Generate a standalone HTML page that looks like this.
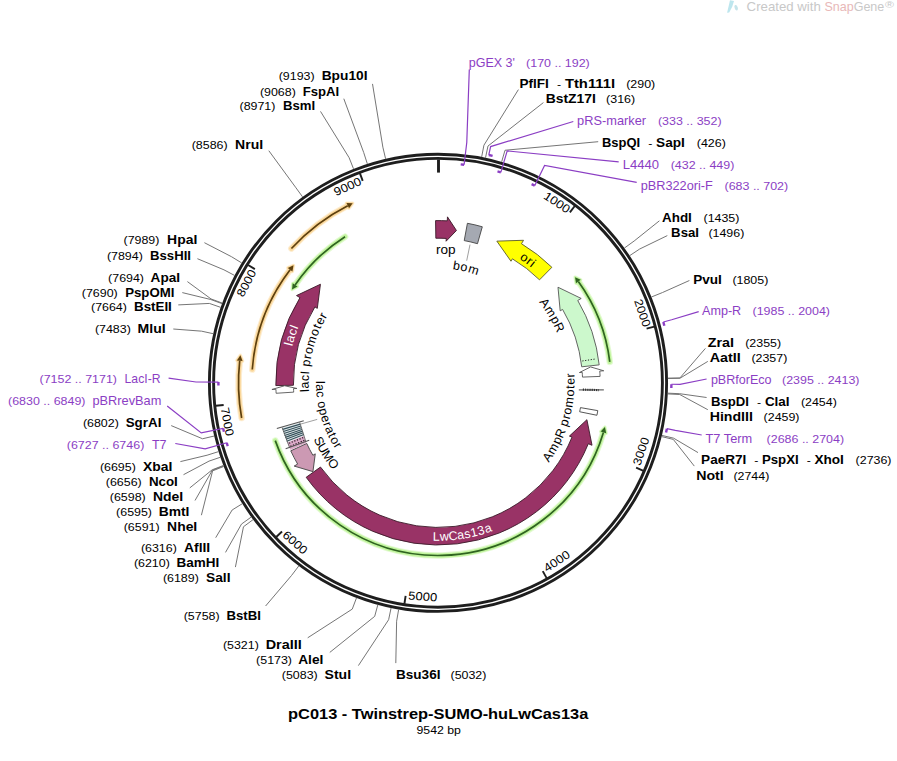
<!DOCTYPE html>
<html><head><meta charset="utf-8"><title>pC013 - Twinstrep-SUMO-huLwCas13a</title>
<style>html,body{margin:0;padding:0;background:#fff;width:897px;height:761px;overflow:hidden}
svg{display:block;font-family:"Liberation Sans",sans-serif}</style></head>
<body>
<svg width="897" height="761" viewBox="0 0 897 761" font-family="Liberation Sans, sans-serif">
<rect width="897" height="761" fill="#fff"/>
<path d="M727.1,12.8 L730,0.2 L734,1 L732.2,6.7 L729.2,12.6 Z" fill="#bde6ee"/>
<ellipse cx="736.2" cy="7.7" rx="1.6" ry="2.9" transform="rotate(-20 736.2 7.7)" fill="#c5e4ea"/>
<text x="746.6" y="10.9" font-size="12.06" fill="#c8c8c8" text-anchor="start" textLength="74.21" lengthAdjust="spacingAndGlyphs">Created with</text>
<text x="824.49" y="10.9" font-size="12.06" fill="#e8b8b8" text-anchor="start" textLength="29.19" lengthAdjust="spacingAndGlyphs">Snap</text>
<text x="853.68" y="10.9" font-size="12.06" fill="#c8c8c8" text-anchor="start" textLength="30.61" lengthAdjust="spacingAndGlyphs">Gene</text>
<text x="885.1" y="8.2" font-size="9.36" fill="#c8c8c8" text-anchor="start" textLength="9" lengthAdjust="spacingAndGlyphs">®</text>
<path d="M609.78,361.89 A173.05,173.05 0 0 0 578.34,281.55" fill="none" stroke="#c0f49c" stroke-opacity="0.45" stroke-width="6.6" stroke-linecap="round"/>
<path d="M575.05,277.14 L580.69,279.85 L575.99,283.25 Z" fill="#c0f49c" fill-opacity="0.45" stroke="#c0f49c" stroke-opacity="0.45" stroke-width="3.4" stroke-linejoin="round"/>
<path d="M609.78,361.89 A173.05,173.05 0 0 0 578.34,281.55" fill="none" stroke="#c0f49c" stroke-width="4.4" stroke-linecap="round"/>
<path d="M575.05,277.14 L580.69,279.85 L575.99,283.25 Z" fill="#c0f49c" stroke="#c0f49c" stroke-width="1.8" stroke-linejoin="round"/>
<path d="M609.78,361.89 A173.05,173.05 0 0 0 578.34,281.55" fill="none" stroke="#2f6420" stroke-width="1.7"/>
<path d="M575.05,277.14 L580.69,279.85 L575.99,283.25 Z" fill="#2f6420" stroke="none"/>
<path d="M275.27,440.62 A172.7,172.7 0 0 0 603.42,432.41" fill="none" stroke="#c0f49c" stroke-opacity="0.45" stroke-width="6.6" stroke-linecap="round"/>
<path d="M604.92,427.12 L606.2,433.24 L600.64,431.58 Z" fill="#c0f49c" fill-opacity="0.45" stroke="#c0f49c" stroke-opacity="0.45" stroke-width="3.4" stroke-linejoin="round"/>
<path d="M275.27,440.62 A172.7,172.7 0 0 0 603.42,432.41" fill="none" stroke="#c0f49c" stroke-width="4.4" stroke-linecap="round"/>
<path d="M604.92,427.12 L606.2,433.24 L600.64,431.58 Z" fill="#c0f49c" stroke="#c0f49c" stroke-width="1.8" stroke-linejoin="round"/>
<path d="M275.27,440.62 A172.7,172.7 0 0 0 603.42,432.41" fill="none" stroke="#2f6420" stroke-width="1.7"/>
<path d="M604.92,427.12 L606.2,433.24 L600.64,431.58 Z" fill="#2f6420" stroke="none"/>
<path d="M345.04,236.66 A173.2,173.2 0 0 0 295.07,284.97" fill="none" stroke="#c0f49c" stroke-opacity="0.45" stroke-width="6.6" stroke-linecap="round"/>
<path d="M292.04,289.56 L292.68,283.34 L297.47,286.61 Z" fill="#c0f49c" fill-opacity="0.45" stroke="#c0f49c" stroke-opacity="0.45" stroke-width="3.4" stroke-linejoin="round"/>
<path d="M345.04,236.66 A173.2,173.2 0 0 0 295.07,284.97" fill="none" stroke="#c0f49c" stroke-width="4.4" stroke-linecap="round"/>
<path d="M292.04,289.56 L292.68,283.34 L297.47,286.61 Z" fill="#c0f49c" stroke="#c0f49c" stroke-width="1.8" stroke-linejoin="round"/>
<path d="M345.04,236.66 A173.2,173.2 0 0 0 295.07,284.97" fill="none" stroke="#2f6420" stroke-width="1.7"/>
<path d="M292.04,289.56 L292.68,283.34 L297.47,286.61 Z" fill="#2f6420" stroke="none"/>
<path d="M291.41,248.52 A198.8,198.8 0 0 1 347.73,205.68" fill="none" stroke="#fad79a" stroke-opacity="0.45" stroke-width="6.6" stroke-linecap="round"/>
<path d="M352.67,203.25 L346.41,203.09 L349.05,208.26 Z" fill="#fad79a" fill-opacity="0.45" stroke="#fad79a" stroke-opacity="0.45" stroke-width="3.4" stroke-linejoin="round"/>
<path d="M291.41,248.52 A198.8,198.8 0 0 1 347.73,205.68" fill="none" stroke="#fad79a" stroke-width="4.4" stroke-linecap="round"/>
<path d="M352.67,203.25 L346.41,203.09 L349.05,208.26 Z" fill="#fad79a" stroke="#fad79a" stroke-width="1.8" stroke-linejoin="round"/>
<path d="M291.41,248.52 A198.8,198.8 0 0 1 347.73,205.68" fill="none" stroke="#5e400e" stroke-width="1.7"/>
<path d="M352.67,203.25 L346.41,203.09 L349.05,208.26 Z" fill="#5e400e" stroke="none"/>
<path d="M252.27,369.52 A186.2,186.2 0 0 1 290.11,269.66" fill="none" stroke="#fad79a" stroke-opacity="0.45" stroke-width="6.6" stroke-linecap="round"/>
<path d="M293.52,265.34 L287.81,267.9 L292.42,271.42 Z" fill="#fad79a" fill-opacity="0.45" stroke="#fad79a" stroke-opacity="0.45" stroke-width="3.4" stroke-linejoin="round"/>
<path d="M252.27,369.52 A186.2,186.2 0 0 1 290.11,269.66" fill="none" stroke="#fad79a" stroke-width="4.4" stroke-linecap="round"/>
<path d="M293.52,265.34 L287.81,267.9 L292.42,271.42 Z" fill="#fad79a" stroke="#fad79a" stroke-width="1.8" stroke-linejoin="round"/>
<path d="M252.27,369.52 A186.2,186.2 0 0 1 290.11,269.66" fill="none" stroke="#5e400e" stroke-width="1.7"/>
<path d="M293.52,265.34 L287.81,267.9 L292.42,271.42 Z" fill="#5e400e" stroke="none"/>
<path d="M241.63,417.99 A199.5,199.5 0 0 1 239.72,360.77" fill="none" stroke="#fad79a" stroke-opacity="0.45" stroke-width="6.6" stroke-linecap="round"/>
<path d="M240.4,355.31 L236.84,360.45 L242.6,361.09 Z" fill="#fad79a" fill-opacity="0.45" stroke="#fad79a" stroke-opacity="0.45" stroke-width="3.4" stroke-linejoin="round"/>
<path d="M241.63,417.99 A199.5,199.5 0 0 1 239.72,360.77" fill="none" stroke="#fad79a" stroke-width="4.4" stroke-linecap="round"/>
<path d="M240.4,355.31 L236.84,360.45 L242.6,361.09 Z" fill="#fad79a" stroke="#fad79a" stroke-width="1.8" stroke-linejoin="round"/>
<path d="M241.63,417.99 A199.5,199.5 0 0 1 239.72,360.77" fill="none" stroke="#5e400e" stroke-width="1.7"/>
<path d="M240.4,355.31 L236.84,360.45 L242.6,361.09 Z" fill="#5e400e" stroke="none"/>
<path d="M435.57,220.62 A162.2,162.2 0 0 1 447.25,220.86 L447.48,216.87 L456.43,230.51 L446.09,241.23 L446.25,238.44 A144.6,144.6 0 0 0 435.83,238.22 Z" fill="#993366" stroke="#3a1a28" stroke-width="0.9" stroke-linejoin="miter"/>
<path d="M467.42,223.29 A162.2,162.2 0 0 1 482.3,226.77 L477.49,243.7 A144.6,144.6 0 0 0 464.23,240.6 Z" fill="#a5a9b2" stroke="#444" stroke-width="0.9"/>
<path d="M551.89,267.31 A162.2,162.2 0 0 0 521.47,243.72 L523.52,240.29 L496.83,241.13 L510.97,261.22 L512.41,258.81 A144.6,144.6 0 0 1 539.53,279.84 Z" fill="#ffff00" stroke="#5a5a2a" stroke-width="0.9" stroke-linejoin="miter"/>
<path d="M599.2,364.86 A162.2,162.2 0 0 0 577.76,300.48 L581.2,298.45 L557.99,287.22 L560.18,310.83 L562.59,309.41 A144.6,144.6 0 0 1 581.71,366.81 Z" fill="#ccf8cc" stroke="#555" stroke-width="0.9" stroke-linejoin="miter"/>
<path d="M600.07,376.4 A162.2,162.2 0 0 0 599.77,371.06 L603.76,370.77 L590.58,366.95 L579.43,372.54 L582.22,372.34 A144.6,144.6 0 0 1 582.49,377.1 Z" fill="#fff" stroke="#555" stroke-width="0.9" stroke-linejoin="miter"/>
<path d="M597.79,410.63 A162.2,162.2 0 0 1 596.92,415.28 L579.67,411.75 A144.6,144.6 0 0 0 580.46,407.61 Z" fill="#fff" stroke="#444" stroke-width="0.9"/>
<path d="M306.18,477.31 A162.2,162.2 0 0 0 588.31,443.74 L592.02,445.25 L586.9,419.7 L569.41,436.08 L572,437.13 A144.6,144.6 0 0 1 320.48,467.06 Z" fill="#993366" stroke="#3a1a28" stroke-width="0.9" stroke-linejoin="miter"/>
<path d="M290.76,450.84 A162.2,162.2 0 0 0 297.63,464.07 L294.17,466.08 L312.94,471.64 L315.28,453.85 L312.86,455.25 A144.6,144.6 0 0 1 306.74,443.45 Z" fill="#cc99b3" stroke="#444" stroke-width="0.9" stroke-linejoin="miter"/>
<path d="M275.82,385.57 A162.2,162.2 0 0 1 299.94,297.66 L296.53,295.57 L320.45,284.24 L317.3,308.37 L314.92,306.9 A144.6,144.6 0 0 0 293.42,385.27 Z" fill="#993366" stroke="#3a1a28" stroke-width="0.9" stroke-linejoin="miter"/>
<path d="M276.14,393.27 A162.2,162.2 0 0 1 275.93,389.31 L271.93,389.47 L284.63,385.74 L296.91,388.47 L293.52,388.6 A144.6,144.6 0 0 0 293.7,392.13 Z" fill="#fff" stroke="#555" stroke-width="0.9" stroke-linejoin="miter"/>
<path d="M582.36,360.97 L596.2,358.87" stroke="#222" stroke-width="1" stroke-dasharray="1.2,1.6"/>
<path d="M578.82,389.93 L603.85,389.9" stroke="#444" stroke-width="1"/>
<path d="M582.84,389.63 L598.83,390.1" stroke="#333" stroke-width="2.2" stroke-dasharray="1.2,1"/>
<path d="M287.19,442.51 A162.2,162.2 0 0 1 282.08,427.51 L299.77,422.44 A143.8,143.8 0 0 0 304.3,435.74 Z" fill="#e4ecee" stroke="none" stroke-width="0"/>
<path d="M300.27,424.12 L282.64,429.41" stroke="#34505a" stroke-width="1.15"/>
<path d="M300.86,426.04 L283.31,431.57" stroke="#34505a" stroke-width="1.15"/>
<path d="M301.39,427.71 L283.91,433.46" stroke="#34505a" stroke-width="1.15"/>
<path d="M301.99,429.5 L284.59,435.47" stroke="#34505a" stroke-width="1.15"/>
<path d="M302.57,431.16 L285.25,437.34" stroke="#34505a" stroke-width="1.15"/>
<path d="M303.18,432.81 L285.92,439.21" stroke="#34505a" stroke-width="1.15"/>
<path d="M303.84,434.57 L286.67,441.19" stroke="#34505a" stroke-width="1.15"/>
<path d="M290.59,449.98 A162,162 0 0 1 287.38,442.44 L303.55,436.03 A144.6,144.6 0 0 0 306.42,442.76 Z" fill="#d9a8c6" stroke="none" stroke-width="0"/>
<path d="M303.19,437.54 L288.37,443.56" stroke="#2a1a22" stroke-width="1.3" stroke-dasharray="1.2,1.6"/>
<path d="M304.37,440.35 L289.67,446.68" stroke="#2a1a22" stroke-width="1.3" stroke-dasharray="1.2,1.6"/>
<path d="M303.77,420.78 L276.83,428.41" stroke="#555" stroke-width="1.1"/>
<path d="M309.19,440.15 L285.65,448.73" stroke="#555" stroke-width="1.1"/>
<path d="M299.77,422.44 L305.7,441.15 M282.08,427.51 L289.78,448.17" stroke="#555" stroke-width="0.8"/>
<path d="M300.6,424.1 L317.2,419.4" stroke="#888" stroke-width="0.8"/>
<circle cx="438" cy="382.8" r="226.5" fill="none" stroke="#1e1e1e" stroke-width="7.1"/>
<circle cx="438" cy="382.8" r="226.5" fill="none" stroke="#fff" stroke-width="1.3"/>
<path d="M438.5,159.5 L438.5,172.6" stroke="#1e1e1e" stroke-width="2.9"/>
<path d="M574.76,206.03 L569.87,212.36" stroke="#1e1e1e" stroke-width="1.9"/>
<text x="554.73" y="205.83" font-size="11.75" fill="#000" text-anchor="middle" textLength="28.76" lengthAdjust="spacingAndGlyphs" transform="rotate(33.41 554.73 205.83)">1000</text>
<path d="M654.34,326.67 L646.59,328.68" stroke="#1e1e1e" stroke-width="1.9"/>
<text x="638.61" y="314.26" font-size="11.75" fill="#000" text-anchor="middle" textLength="28.76" lengthAdjust="spacingAndGlyphs" transform="rotate(71.14 638.61 314.26)">2000</text>
<path d="M643.45,470.79 L636.1,467.64" stroke="#1e1e1e" stroke-width="1.9"/>
<text x="644.87" y="452.51" font-size="11.75" fill="#000" text-anchor="middle" textLength="28.76" lengthAdjust="spacingAndGlyphs" transform="rotate(-71.38 644.87 452.51)">3000</text>
<path d="M546.66,578.11 L542.77,571.12" stroke="#1e1e1e" stroke-width="1.9"/>
<text x="558.96" y="564.52" font-size="11.75" fill="#000" text-anchor="middle" textLength="28.76" lengthAdjust="spacingAndGlyphs" transform="rotate(-33.65 558.96 564.52)">4000</text>
<path d="M404.43,603.76 L405.63,595.85" stroke="#1e1e1e" stroke-width="1.9"/>
<text x="422.47" y="600.55" font-size="11.75" fill="#000" text-anchor="middle" textLength="28.76" lengthAdjust="spacingAndGlyphs" transform="rotate(4.08 422.47 600.55)">5000</text>
<path d="M276.23,537.02 L282.02,531.5" stroke="#1e1e1e" stroke-width="1.9"/>
<text x="292.48" y="545.52" font-size="11.75" fill="#000" text-anchor="middle" textLength="28.76" lengthAdjust="spacingAndGlyphs" transform="rotate(41.81 292.48 545.52)">6000</text>
<path d="M215.69,405.79 L223.64,404.97" stroke="#1e1e1e" stroke-width="1.9"/>
<text x="223.33" y="422.45" font-size="11.75" fill="#000" text-anchor="middle" textLength="28.76" lengthAdjust="spacingAndGlyphs" transform="rotate(79.53 223.33 422.45)">7000</text>
<path d="M248.1,264.95 L254.89,269.17" stroke="#1e1e1e" stroke-width="1.9"/>
<text x="249.96" y="284.89" font-size="11.75" fill="#000" text-anchor="middle" textLength="28.76" lengthAdjust="spacingAndGlyphs" transform="rotate(-62.5 249.96 284.89)">8000</text>
<path d="M359.92,173.38 L362.71,180.88" stroke="#1e1e1e" stroke-width="1.9"/>
<text x="349.19" y="190.3" font-size="11.75" fill="#000" text-anchor="middle" textLength="28.76" lengthAdjust="spacingAndGlyphs" transform="rotate(-24.77 349.19 190.3)">9000</text>
<path d="M372.5,83.9 L382.87,147.16 L385.61,158.85" fill="none" stroke="#6e6e6e" stroke-width="0.95"/>
<text x="278.7" y="80.3" font-size="11.23" fill="#000" text-anchor="start" textLength="35.91" lengthAdjust="spacingAndGlyphs">(9193)</text>
<text x="321.7" y="80.3" font-size="12.06" font-weight="bold" fill="#000" text-anchor="start" textLength="45.86" lengthAdjust="spacingAndGlyphs">Bpu10I</text>
<path d="M343.8,98.7 L363.69,152.49 L367.37,163.91" fill="none" stroke="#6e6e6e" stroke-width="0.95"/>
<text x="259.9" y="95.5" font-size="11.23" fill="#000" text-anchor="start" textLength="35.91" lengthAdjust="spacingAndGlyphs">(9068)</text>
<text x="302.8" y="95.5" font-size="12.06" font-weight="bold" fill="#000" text-anchor="start" textLength="36.43" lengthAdjust="spacingAndGlyphs">FspAI</text>
<path d="M320.5,111.4 L349.14,157.71 L353.55,168.87" fill="none" stroke="#6e6e6e" stroke-width="0.95"/>
<text x="239.5" y="110.2" font-size="11.23" fill="#000" text-anchor="start" textLength="35.91" lengthAdjust="spacingAndGlyphs">(8971)</text>
<text x="282.9" y="110.2" font-size="12.06" font-weight="bold" fill="#000" text-anchor="start" textLength="32.15" lengthAdjust="spacingAndGlyphs">BsmI</text>
<path d="M268.8,150.7 L295.52,187.19 L302.59,196.89" fill="none" stroke="#6e6e6e" stroke-width="0.95"/>
<text x="191.7" y="149.4" font-size="11.23" fill="#000" text-anchor="start" textLength="35.91" lengthAdjust="spacingAndGlyphs">(8586)</text>
<text x="235.1" y="149.4" font-size="12.06" font-weight="bold" fill="#000" text-anchor="start" textLength="28" lengthAdjust="spacingAndGlyphs">NruI</text>
<path d="M204.4,242.7 L231.46,256.68 L241.7,262.94" fill="none" stroke="#6e6e6e" stroke-width="0.95"/>
<text x="123.5" y="244.1" font-size="11.23" fill="#000" text-anchor="start" textLength="35.91" lengthAdjust="spacingAndGlyphs">(7989)</text>
<text x="167.1" y="244.1" font-size="12.06" font-weight="bold" fill="#000" text-anchor="start" textLength="30.16" lengthAdjust="spacingAndGlyphs">HpaI</text>
<path d="M197.4,258.7 L223.98,269.84 L234.59,275.44" fill="none" stroke="#6e6e6e" stroke-width="0.95"/>
<text x="106.9" y="260.1" font-size="11.23" fill="#000" text-anchor="start" textLength="35.91" lengthAdjust="spacingAndGlyphs">(7894)</text>
<text x="150" y="260.1" font-size="12.06" font-weight="bold" fill="#000" text-anchor="start" textLength="40.99" lengthAdjust="spacingAndGlyphs">BssHII</text>
<path d="M187.4,281.6 L211,298.93 L222.26,303.08" fill="none" stroke="#6e6e6e" stroke-width="0.95"/>
<text x="108.1" y="281.8" font-size="11.23" fill="#000" text-anchor="start" textLength="35.91" lengthAdjust="spacingAndGlyphs">(7694)</text>
<text x="150.6" y="281.8" font-size="12.06" font-weight="bold" fill="#000" text-anchor="start" textLength="29.43" lengthAdjust="spacingAndGlyphs">ApaI</text>
<path d="M182.3,292.6 L210.78,299.52 L222.05,303.65" fill="none" stroke="#6e6e6e" stroke-width="0.95"/>
<text x="81.8" y="296.6" font-size="11.23" fill="#000" text-anchor="start" textLength="35.91" lengthAdjust="spacingAndGlyphs">(7690)</text>
<text x="125.2" y="296.6" font-size="12.06" font-weight="bold" fill="#000" text-anchor="start" textLength="49.23" lengthAdjust="spacingAndGlyphs">PspOMI</text>
<path d="M178.3,304.9 L209.39,303.43 L220.72,307.36" fill="none" stroke="#6e6e6e" stroke-width="0.95"/>
<text x="91" y="311.3" font-size="11.23" fill="#000" text-anchor="start" textLength="35.91" lengthAdjust="spacingAndGlyphs">(7664)</text>
<text x="134" y="311.3" font-size="12.06" font-weight="bold" fill="#000" text-anchor="start" textLength="37.85" lengthAdjust="spacingAndGlyphs">BstEII</text>
<path d="M173.3,329 L201.57,331.17 L213.3,333.73" fill="none" stroke="#6e6e6e" stroke-width="0.95"/>
<text x="94.9" y="333.4" font-size="11.23" fill="#000" text-anchor="start" textLength="35.91" lengthAdjust="spacingAndGlyphs">(7483)</text>
<text x="137.6" y="333.4" font-size="12.06" font-weight="bold" fill="#000" text-anchor="start" textLength="28.1" lengthAdjust="spacingAndGlyphs">MluI</text>
<path d="M171.2,425.6 L202.56,438.78 L214.24,436" fill="none" stroke="#6e6e6e" stroke-width="0.95"/>
<text x="82.9" y="426.9" font-size="11.23" fill="#000" text-anchor="start" textLength="35.91" lengthAdjust="spacingAndGlyphs">(6802)</text>
<text x="125.7" y="426.9" font-size="12.06" font-weight="bold" fill="#000" text-anchor="start" textLength="35.67" lengthAdjust="spacingAndGlyphs">SgrAI</text>
<path d="M180.4,461.6 L207.09,455.21 L218.54,451.62" fill="none" stroke="#6e6e6e" stroke-width="0.95"/>
<text x="99.9" y="471.1" font-size="11.23" fill="#000" text-anchor="start" textLength="35.91" lengthAdjust="spacingAndGlyphs">(6695)</text>
<text x="143" y="471.1" font-size="12.06" font-weight="bold" fill="#000" text-anchor="start" textLength="29.39" lengthAdjust="spacingAndGlyphs">XbaI</text>
<path d="M183.5,474.7 L209.02,461.12 L220.38,457.24" fill="none" stroke="#6e6e6e" stroke-width="0.95"/>
<text x="105.8" y="485.8" font-size="11.23" fill="#000" text-anchor="start" textLength="35.91" lengthAdjust="spacingAndGlyphs">(6656)</text>
<text x="148.9" y="485.8" font-size="12.06" font-weight="bold" fill="#000" text-anchor="start" textLength="28.87" lengthAdjust="spacingAndGlyphs">NcoI</text>
<path d="M189.8,487.9 L212.18,469.81 L223.38,465.49" fill="none" stroke="#6e6e6e" stroke-width="0.95"/>
<text x="109.8" y="500.9" font-size="11.23" fill="#000" text-anchor="start" textLength="35.91" lengthAdjust="spacingAndGlyphs">(6598)</text>
<text x="152.9" y="500.9" font-size="12.06" font-weight="bold" fill="#000" text-anchor="start" textLength="30.2" lengthAdjust="spacingAndGlyphs">NdeI</text>
<path d="M195,500.5 L212.35,470.25 L223.54,465.91" fill="none" stroke="#6e6e6e" stroke-width="0.95"/>
<text x="116.1" y="515.6" font-size="11.23" fill="#000" text-anchor="start" textLength="35.91" lengthAdjust="spacingAndGlyphs">(6595)</text>
<text x="158.7" y="515.6" font-size="12.06" font-weight="bold" fill="#000" text-anchor="start" textLength="30.79" lengthAdjust="spacingAndGlyphs">BmtI</text>
<path d="M201.4,515.2 L212.58,470.85 L223.76,466.48" fill="none" stroke="#6e6e6e" stroke-width="0.95"/>
<text x="123.7" y="531" font-size="11.23" fill="#000" text-anchor="start" textLength="35.91" lengthAdjust="spacingAndGlyphs">(6591)</text>
<text x="167.1" y="531" font-size="12.06" font-weight="bold" fill="#000" text-anchor="start" textLength="30.15" lengthAdjust="spacingAndGlyphs">NheI</text>
<path d="M215.7,537.7 L232.13,510 L242.34,503.69" fill="none" stroke="#6e6e6e" stroke-width="0.95"/>
<text x="140.9" y="552.4" font-size="11.23" fill="#000" text-anchor="start" textLength="35.91" lengthAdjust="spacingAndGlyphs">(6316)</text>
<text x="184" y="552.4" font-size="12.06" font-weight="bold" fill="#000" text-anchor="start" textLength="26.21" lengthAdjust="spacingAndGlyphs">AflII</text>
<path d="M225.5,552.4 L241.5,524.05 L251.24,517.05" fill="none" stroke="#6e6e6e" stroke-width="0.95"/>
<text x="133.9" y="567.1" font-size="11.23" fill="#000" text-anchor="start" textLength="35.91" lengthAdjust="spacingAndGlyphs">(6210)</text>
<text x="176.6" y="567.1" font-size="12.06" font-weight="bold" fill="#000" text-anchor="start" textLength="42.78" lengthAdjust="spacingAndGlyphs">BamHI</text>
<path d="M235.4,567.1 L243.47,526.75 L253.12,519.61" fill="none" stroke="#6e6e6e" stroke-width="0.95"/>
<text x="162.9" y="582.3" font-size="11.23" fill="#000" text-anchor="start" textLength="35.91" lengthAdjust="spacingAndGlyphs">(6189)</text>
<text x="206" y="582.3" font-size="12.06" font-weight="bold" fill="#000" text-anchor="start" textLength="24.48" lengthAdjust="spacingAndGlyphs">SalI</text>
<path d="M265.6,606 L291.56,575.46 L298.82,565.91" fill="none" stroke="#6e6e6e" stroke-width="0.95"/>
<text x="183.7" y="620.2" font-size="11.23" fill="#000" text-anchor="start" textLength="35.91" lengthAdjust="spacingAndGlyphs">(5758)</text>
<text x="226.5" y="620.2" font-size="12.06" font-weight="bold" fill="#000" text-anchor="start" textLength="34.45" lengthAdjust="spacingAndGlyphs">BstBI</text>
<path d="M307.7,637.8 L352.26,609.1 L356.51,597.88" fill="none" stroke="#6e6e6e" stroke-width="0.95"/>
<text x="222.9" y="649" font-size="11.23" fill="#000" text-anchor="start" textLength="35.91" lengthAdjust="spacingAndGlyphs">(5321)</text>
<text x="265.7" y="649" font-size="12.06" font-weight="bold" fill="#000" text-anchor="start" textLength="36.13" lengthAdjust="spacingAndGlyphs">DraIII</text>
<path d="M329.8,652.4 L374.69,616.37 L377.83,604.79" fill="none" stroke="#6e6e6e" stroke-width="0.95"/>
<text x="256.1" y="664.1" font-size="11.23" fill="#000" text-anchor="start" textLength="35.91" lengthAdjust="spacingAndGlyphs">(5173)</text>
<text x="298.2" y="664.1" font-size="12.06" font-weight="bold" fill="#000" text-anchor="start" textLength="25.14" lengthAdjust="spacingAndGlyphs">AleI</text>
<path d="M358.4,665.6 L388.63,619.71 L391.08,607.96" fill="none" stroke="#6e6e6e" stroke-width="0.95"/>
<text x="281.8" y="679.2" font-size="11.23" fill="#000" text-anchor="start" textLength="35.91" lengthAdjust="spacingAndGlyphs">(5083)</text>
<text x="324.6" y="679.2" font-size="12.06" font-weight="bold" fill="#000" text-anchor="start" textLength="26.48" lengthAdjust="spacingAndGlyphs">StuI</text>
<path d="M518.4,89.6 L483.93,145.2 L481.65,156.98" fill="none" stroke="#6e6e6e" stroke-width="0.95"/>
<text x="519.5" y="87.9" font-size="12.06" font-weight="bold" fill="#000" text-anchor="start" textLength="29.34" lengthAdjust="spacingAndGlyphs">PflFI</text>
<text x="559.08" y="87.9" font-size="11.79" fill="#000" text-anchor="middle" textLength="4.09" lengthAdjust="spacingAndGlyphs">-</text>
<text x="564.9" y="87.9" font-size="12.06" font-weight="bold" fill="#000" text-anchor="start" textLength="50.25" lengthAdjust="spacingAndGlyphs">Tth111I</text>
<text x="626.2" y="87.9" font-size="11.23" fill="#000" text-anchor="start" textLength="29.04" lengthAdjust="spacingAndGlyphs">(290)</text>
<path d="M543.4,102.6 L487.99,146.02 L485.51,157.76" fill="none" stroke="#6e6e6e" stroke-width="0.95"/>
<text x="545.7" y="103.1" font-size="12.06" font-weight="bold" fill="#000" text-anchor="start" textLength="50.16" lengthAdjust="spacingAndGlyphs">BstZ17I</text>
<text x="606.1" y="103.1" font-size="11.23" fill="#000" text-anchor="start" textLength="29.04" lengthAdjust="spacingAndGlyphs">(316)</text>
<path d="M598.2,141.7 L505,150.26 L501.67,161.79" fill="none" stroke="#6e6e6e" stroke-width="0.95"/>
<text x="602" y="146.8" font-size="12.06" font-weight="bold" fill="#000" text-anchor="start" textLength="38.23" lengthAdjust="spacingAndGlyphs">BspQI</text>
<text x="650.35" y="146.8" font-size="11.79" fill="#000" text-anchor="middle" textLength="4.09" lengthAdjust="spacingAndGlyphs">-</text>
<text x="656.1" y="146.8" font-size="12.06" font-weight="bold" fill="#000" text-anchor="start" textLength="28.8" lengthAdjust="spacingAndGlyphs">SapI</text>
<text x="696.8" y="146.8" font-size="11.23" fill="#000" text-anchor="start" textLength="29.04" lengthAdjust="spacingAndGlyphs">(426)</text>
<path d="M659.4,220.8 L634.13,241.03 L624.4,248.06" fill="none" stroke="#6e6e6e" stroke-width="0.95"/>
<text x="662" y="222.1" font-size="12.06" font-weight="bold" fill="#000" text-anchor="start" textLength="29.86" lengthAdjust="spacingAndGlyphs">AhdI</text>
<text x="703.5" y="222.1" font-size="11.23" fill="#000" text-anchor="start" textLength="35.91" lengthAdjust="spacingAndGlyphs">(1435)</text>
<path d="M667.3,235.6 L639.66,249.02 L629.66,255.66" fill="none" stroke="#6e6e6e" stroke-width="0.95"/>
<text x="671.1" y="237.3" font-size="12.06" font-weight="bold" fill="#000" text-anchor="start" textLength="27.89" lengthAdjust="spacingAndGlyphs">BsaI</text>
<text x="708.4" y="237.3" font-size="11.23" fill="#000" text-anchor="start" textLength="35.91" lengthAdjust="spacingAndGlyphs">(1496)</text>
<path d="M689.4,280.5 L662.53,292.53 L651.4,297.01" fill="none" stroke="#6e6e6e" stroke-width="0.95"/>
<text x="693.2" y="283.9" font-size="12.06" font-weight="bold" fill="#000" text-anchor="start" textLength="28.64" lengthAdjust="spacingAndGlyphs">PvuI</text>
<text x="732.4" y="283.9" font-size="11.23" fill="#000" text-anchor="start" textLength="35.91" lengthAdjust="spacingAndGlyphs">(1805)</text>
<path d="M705.4,348.4 L679.95,377.94 L667.95,378.18" fill="none" stroke="#6e6e6e" stroke-width="0.95"/>
<text x="707.7" y="346.7" font-size="12.06" font-weight="bold" fill="#000" text-anchor="start" textLength="26.28" lengthAdjust="spacingAndGlyphs">ZraI</text>
<text x="745.2" y="346.7" font-size="11.23" fill="#000" text-anchor="start" textLength="35.91" lengthAdjust="spacingAndGlyphs">(2355)</text>
<path d="M707.8,361.4 L679.96,378.26 L667.96,378.48" fill="none" stroke="#6e6e6e" stroke-width="0.95"/>
<text x="709.7" y="361.9" font-size="12.06" font-weight="bold" fill="#000" text-anchor="start" textLength="30.98" lengthAdjust="spacingAndGlyphs">AatII</text>
<text x="751.4" y="361.9" font-size="11.23" fill="#000" text-anchor="start" textLength="35.91" lengthAdjust="spacingAndGlyphs">(2357)</text>
<path d="M706.6,397.5 L679.75,393.71 L667.77,393.17" fill="none" stroke="#6e6e6e" stroke-width="0.95"/>
<text x="710.9" y="405.5" font-size="12.06" font-weight="bold" fill="#000" text-anchor="start" textLength="38" lengthAdjust="spacingAndGlyphs">BspDI</text>
<text x="759.1" y="405.5" font-size="11.79" fill="#000" text-anchor="middle" textLength="4.09" lengthAdjust="spacingAndGlyphs">-</text>
<text x="764.9" y="405.5" font-size="12.06" font-weight="bold" fill="#000" text-anchor="start" textLength="24.63" lengthAdjust="spacingAndGlyphs">ClaI</text>
<text x="800.9" y="405.5" font-size="11.23" fill="#000" text-anchor="start" textLength="35.91" lengthAdjust="spacingAndGlyphs">(2454)</text>
<path d="M707.8,409.7 L679.72,394.51 L667.73,393.93" fill="none" stroke="#6e6e6e" stroke-width="0.95"/>
<text x="709.7" y="420.8" font-size="12.06" font-weight="bold" fill="#000" text-anchor="start" textLength="43.2" lengthAdjust="spacingAndGlyphs">HindIII</text>
<text x="763.6" y="420.8" font-size="11.23" fill="#000" text-anchor="start" textLength="35.91" lengthAdjust="spacingAndGlyphs">(2459)</text>
<path d="M698,452.6 L673.58,438.16 L661.9,435.41" fill="none" stroke="#6e6e6e" stroke-width="0.95"/>
<text x="701.1" y="464.4" font-size="12.06" font-weight="bold" fill="#000" text-anchor="start" textLength="45.2" lengthAdjust="spacingAndGlyphs">PaeR7I</text>
<text x="756.26" y="464.4" font-size="11.79" fill="#000" text-anchor="middle" textLength="4.09" lengthAdjust="spacingAndGlyphs">-</text>
<text x="761.9" y="464.4" font-size="12.06" font-weight="bold" fill="#000" text-anchor="start" textLength="36.77" lengthAdjust="spacingAndGlyphs">PspXI</text>
<text x="808.71" y="464.4" font-size="11.79" fill="#000" text-anchor="middle" textLength="4.09" lengthAdjust="spacingAndGlyphs">-</text>
<text x="814.4" y="464.4" font-size="12.06" font-weight="bold" fill="#000" text-anchor="start" textLength="29.49" lengthAdjust="spacingAndGlyphs">XhoI</text>
<text x="855.6" y="464.4" font-size="11.23" fill="#000" text-anchor="start" textLength="35.91" lengthAdjust="spacingAndGlyphs">(2736)</text>
<path d="M694.3,466.1 L673.29,439.4 L661.62,436.59" fill="none" stroke="#6e6e6e" stroke-width="0.95"/>
<text x="696.2" y="479.8" font-size="12.06" font-weight="bold" fill="#000" text-anchor="start" textLength="27.54" lengthAdjust="spacingAndGlyphs">NotI</text>
<text x="733.4" y="479.8" font-size="11.23" fill="#000" text-anchor="start" textLength="35.91" lengthAdjust="spacingAndGlyphs">(2744)</text>
<path d="M395.8,663.1 L396.61,621.23 L398.67,609.41" fill="none" stroke="#6e6e6e" stroke-width="0.95"/>
<text x="396" y="679.2" font-size="12.06" font-weight="bold" fill="#000" text-anchor="start" textLength="44.46" lengthAdjust="spacingAndGlyphs">Bsu36I</text>
<text x="450.5" y="679.2" font-size="11.23" fill="#000" text-anchor="start" textLength="35.91" lengthAdjust="spacingAndGlyphs">(5032)</text>
<path d="M469.3,69.5 L466.77,142.52 L464.11,164.76" fill="none" stroke="#8b3ec4" stroke-width="1.2"/>
<path d="M464.11,164.76 L460.68,164.37" stroke="#8b3ec4" stroke-width="2.4"/>
<text x="468.7" y="66.6" font-size="12.17" fill="#8b3ec4" text-anchor="start" textLength="46.28" lengthAdjust="spacingAndGlyphs">pGEX 3'</text>
<text x="526.1" y="66.6" font-size="11.28" fill="#8b3ec4" text-anchor="start" textLength="63.68" lengthAdjust="spacingAndGlyphs">(170 .. 192)</text>
<path d="M573.3,121.5 L490.64,146.59 L488.77,154.99" fill="none" stroke="#8b3ec4" stroke-width="1.2"/>
<path d="M488.77,154.99 L492.61,155.88" stroke="#8b3ec4" stroke-width="2.4"/>
<text x="577.1" y="125" font-size="12.17" fill="#8b3ec4" text-anchor="start" textLength="68.95" lengthAdjust="spacingAndGlyphs">pRS-marker</text>
<text x="657.9" y="125" font-size="11.28" fill="#8b3ec4" text-anchor="start" textLength="63.68" lengthAdjust="spacingAndGlyphs">(333 .. 352)</text>
<path d="M618.7,161.9 L507.21,150.91 L500.81,172.37" fill="none" stroke="#8b3ec4" stroke-width="1.2"/>
<path d="M500.81,172.37 L497.49,171.41" stroke="#8b3ec4" stroke-width="2.4"/>
<text x="622.7" y="168.6" font-size="12.17" fill="#8b3ec4" text-anchor="start" textLength="36.29" lengthAdjust="spacingAndGlyphs">L4440</text>
<text x="670.7" y="168.6" font-size="11.28" fill="#8b3ec4" text-anchor="start" textLength="63.68" lengthAdjust="spacingAndGlyphs">(432 .. 449)</text>
<path d="M636.7,182.4 L544.57,165.53 L534.7,185.64" fill="none" stroke="#8b3ec4" stroke-width="1.2"/>
<path d="M534.7,185.64 L531.59,184.14" stroke="#8b3ec4" stroke-width="2.4"/>
<text x="640.7" y="190.4" font-size="12.17" fill="#8b3ec4" text-anchor="start" textLength="72.09" lengthAdjust="spacingAndGlyphs">pBR322ori-F</text>
<text x="724.5" y="190.4" font-size="11.28" fill="#8b3ec4" text-anchor="start" textLength="63.68" lengthAdjust="spacingAndGlyphs">(683 .. 702)</text>
<path d="M698.7,311.6 L671.63,319.72 L663.33,321.96" fill="none" stroke="#8b3ec4" stroke-width="1.2"/>
<path d="M663.33,321.96 L664.33,325.77" stroke="#8b3ec4" stroke-width="2.4"/>
<text x="702" y="315.3" font-size="12.17" fill="#8b3ec4" text-anchor="start" textLength="39.18" lengthAdjust="spacingAndGlyphs">Amp-R</text>
<text x="752.5" y="315.3" font-size="11.28" fill="#8b3ec4" text-anchor="start" textLength="77.49" lengthAdjust="spacingAndGlyphs">(1985 .. 2004)</text>
<path d="M706.6,379 L680,384.31 L671.4,384.26" fill="none" stroke="#8b3ec4" stroke-width="1.2"/>
<path d="M671.4,384.26 L671.34,388.04" stroke="#8b3ec4" stroke-width="2.4"/>
<text x="710.9" y="383.5" font-size="12.17" fill="#8b3ec4" text-anchor="start" textLength="60.65" lengthAdjust="spacingAndGlyphs">pBRforEco</text>
<text x="782" y="383.5" font-size="11.28" fill="#8b3ec4" text-anchor="start" textLength="77.49" lengthAdjust="spacingAndGlyphs">(2395 .. 2413)</text>
<path d="M701.7,435 L675.28,430.37 L666.85,428.68" fill="none" stroke="#8b3ec4" stroke-width="1.2"/>
<path d="M666.85,428.68 L666.07,432.39" stroke="#8b3ec4" stroke-width="2.4"/>
<text x="705.5" y="442.8" font-size="12.17" fill="#8b3ec4" text-anchor="start" textLength="46.67" lengthAdjust="spacingAndGlyphs">T7 Term</text>
<text x="766.6" y="442.8" font-size="11.28" fill="#8b3ec4" text-anchor="start" textLength="77.49" lengthAdjust="spacingAndGlyphs">(2686 .. 2704)</text>
<path d="M168.6,378.2 L196,382 L218.4,382.08" fill="none" stroke="#8b3ec4" stroke-width="1.2"/>
<path d="M218.4,382.08 L218.42,385.53" stroke="#8b3ec4" stroke-width="2.4"/>
<text x="124.6" y="382.7" font-size="12.17" fill="#8b3ec4" text-anchor="start" textLength="35.92" lengthAdjust="spacingAndGlyphs">LacI-R</text>
<text x="39.5" y="382.7" font-size="11.28" fill="#8b3ec4" text-anchor="start" textLength="77.49" lengthAdjust="spacingAndGlyphs">(7152 .. 7171)</text>
<path d="M167.2,406 L201.25,432.95 L223.17,428.31" fill="none" stroke="#8b3ec4" stroke-width="1.2"/>
<path d="M223.17,428.31 L223.91,431.68" stroke="#8b3ec4" stroke-width="2.4"/>
<text x="92.5" y="405" font-size="12.17" fill="#8b3ec4" text-anchor="start" textLength="68.85" lengthAdjust="spacingAndGlyphs">pBRrevBam</text>
<text x="8" y="405" font-size="11.28" fill="#8b3ec4" text-anchor="start" textLength="77.49" lengthAdjust="spacingAndGlyphs">(6830 .. 6849)</text>
<path d="M175.3,443.5 L205.2,448.88 L226.74,442.76" fill="none" stroke="#8b3ec4" stroke-width="1.2"/>
<path d="M226.74,442.76 L227.71,446.07" stroke="#8b3ec4" stroke-width="2.4"/>
<text x="151.9" y="449.1" font-size="12.17" fill="#8b3ec4" text-anchor="start" textLength="14.59" lengthAdjust="spacingAndGlyphs">T7</text>
<text x="66.8" y="449.1" font-size="11.28" fill="#8b3ec4" text-anchor="start" textLength="77.49" lengthAdjust="spacingAndGlyphs">(6727 .. 6746)</text>
<g font-size="12.48" fill="#000" text-anchor="middle"><text x="522.22" y="260.73" transform="rotate(34.6 522.22 260.73)">o</text><text x="527.2" y="264.32" transform="rotate(36.97 527.2 264.32)">r</text><text x="530.46" y="266.85" transform="rotate(38.57 530.46 266.85)">i</text></g>
<g font-size="12.48" fill="#000" text-anchor="middle"><text x="541.41" y="305.35" transform="rotate(53.17 541.41 305.35)">A</text><text x="547.07" y="313.54" transform="rotate(57.58 547.07 313.54)">m</text><text x="551.93" y="321.87" transform="rotate(61.86 551.93 321.87)">p</text><text x="555.47" y="329.02" transform="rotate(65.4 555.47 329.02)">R</text></g>
<g font-size="12.48" fill="#000" text-anchor="middle"><text x="551.11" y="459.21" transform="rotate(-55.96 551.11 459.21)">A</text><text x="556.38" y="450.77" transform="rotate(-60.14 556.38 450.77)">m</text><text x="560.88" y="442.23" transform="rotate(-64.19 560.88 442.23)">p</text><text x="564.14" y="434.95" transform="rotate(-67.54 564.14 434.95)">R</text><text x="568.17" y="423.87" transform="rotate(-72.49 568.17 423.87)">p</text><text x="569.92" y="417.85" transform="rotate(-75.12 569.92 417.85)">r</text><text x="571.37" y="411.88" transform="rotate(-77.7 571.37 411.88)">o</text><text x="573.03" y="402.78" transform="rotate(-81.58 573.03 402.78)">m</text><text x="574.09" y="393.33" transform="rotate(-85.58 574.09 393.33)">o</text><text x="574.43" y="387.32" transform="rotate(-88.1 574.43 387.32)">t</text><text x="574.49" y="381.27" transform="rotate(-90.64 574.49 381.27)">e</text><text x="574.28" y="375.12" transform="rotate(-93.23 574.28 375.12)">r</text></g>
<g font-size="12.48" fill="#fff" text-anchor="middle"><text x="436.16" y="540.79" transform="rotate(0.67 436.16 540.79)">L</text><text x="444.41" y="540.67" transform="rotate(-2.32 444.41 540.67)">w</text><text x="453.48" y="540.04" transform="rotate(-5.62 453.48 540.04)">C</text><text x="461.29" y="539.07" transform="rotate(-8.48 461.29 539.07)">a</text><text x="467.99" y="537.93" transform="rotate(-10.94 467.99 537.93)">s</text><text x="474.78" y="536.46" transform="rotate(-13.46 474.78 536.46)">1</text><text x="482.16" y="534.5" transform="rotate(-16.23 482.16 534.5)">3</text><text x="489.3" y="532.24" transform="rotate(-18.95 489.3 532.24)">a</text></g>
<g font-size="12.48" fill="#000" text-anchor="middle"><text x="315.34" y="442.91" transform="rotate(63.89 315.34 442.91)">S</text><text x="319.16" y="450.16" transform="rotate(60.45 319.16 450.16)">U</text><text x="324.17" y="458.31" transform="rotate(56.44 324.17 458.31)">M</text><text x="329.93" y="466.36" transform="rotate(52.29 329.93 466.36)">O</text></g>
<g font-size="12.48" fill="#000" text-anchor="middle"><text x="316" y="382.39" transform="rotate(90.19 316 382.39)">l</text><text x="316.1" y="387.74" transform="rotate(87.68 316.1 387.74)">a</text><text x="316.58" y="394.69" transform="rotate(84.41 316.58 394.69)">c</text><text x="318.11" y="405.37" transform="rotate(79.34 318.11 405.37)">o</text><text x="319.71" y="412.67" transform="rotate(75.83 319.71 412.67)">p</text><text x="321.77" y="419.88" transform="rotate(72.31 321.77 419.88)">e</text><text x="323.79" y="425.7" transform="rotate(69.41 323.79 425.7)">r</text><text x="326.1" y="431.39" transform="rotate(66.53 326.1 431.39)">a</text><text x="328.63" y="436.86" transform="rotate(63.7 328.63 436.86)">t</text><text x="331.43" y="442.19" transform="rotate(60.87 331.43 442.19)">o</text><text x="334.56" y="447.48" transform="rotate(57.98 334.56 447.48)">r</text></g>
<g font-size="12.48" fill="#000" text-anchor="middle"><text x="308.92" y="390.37" transform="rotate(266.64 308.92 390.37)">l</text><text x="308.72" y="385.03" transform="rotate(269.01 308.72 385.03)">a</text><text x="308.79" y="378.06" transform="rotate(272.1 308.79 378.06)">c</text><text x="309.07" y="373" transform="rotate(274.35 309.07 373)">I</text><text x="310.12" y="363.67" transform="rotate(278.51 310.12 363.67)">p</text><text x="311.2" y="357.49" transform="rotate(281.29 311.2 357.49)">r</text><text x="312.55" y="351.5" transform="rotate(284.01 312.55 351.5)">o</text><text x="315.11" y="342.61" transform="rotate(288.11 315.11 342.61)">m</text><text x="318.39" y="333.68" transform="rotate(292.33 318.39 333.68)">o</text><text x="320.81" y="328.16" transform="rotate(295 320.81 328.16)">t</text><text x="323.49" y="322.75" transform="rotate(297.67 323.49 322.75)">e</text><text x="326.48" y="317.36" transform="rotate(300.4 326.48 317.36)">r</text></g>
<g font-size="12.48" fill="#fff" text-anchor="middle"><text x="292.63" y="345.03" transform="rotate(284.56 292.63 345.03)">l</text><text x="294.06" y="339.88" transform="rotate(286.6 294.06 339.88)">a</text><text x="296.21" y="333.25" transform="rotate(289.26 296.21 333.25)">c</text><text x="297.96" y="328.49" transform="rotate(291.2 297.96 328.49)">I</text></g>
<text x="436" y="253.5" font-size="12.48" fill="#000" text-anchor="start" textLength="19.63" lengthAdjust="spacingAndGlyphs">rop</text>
<g font-size="12.48" fill="#000" text-anchor="middle"><text x="455.89" y="269.71" transform="rotate(8.99 455.89 269.71)">b</text><text x="463.23" y="271.11" transform="rotate(12.73 463.23 271.11)">o</text><text x="472.42" y="273.6" transform="rotate(17.49 472.42 273.6)">m</text></g>
<path d="M470,244.6 L466.7,260.7" stroke="#888" stroke-width="0.8"/>
<text x="438.2" y="718.7" font-size="14.56" font-weight="bold" fill="#000" text-anchor="middle" textLength="300.18" lengthAdjust="spacingAndGlyphs">pC013 - Twinstrep-SUMO-huLwCas13a</text>
<text x="438.7" y="733.7" font-size="11.18" fill="#000" text-anchor="middle" textLength="44.42" lengthAdjust="spacingAndGlyphs">9542 bp</text>
</svg>
</body></html>
